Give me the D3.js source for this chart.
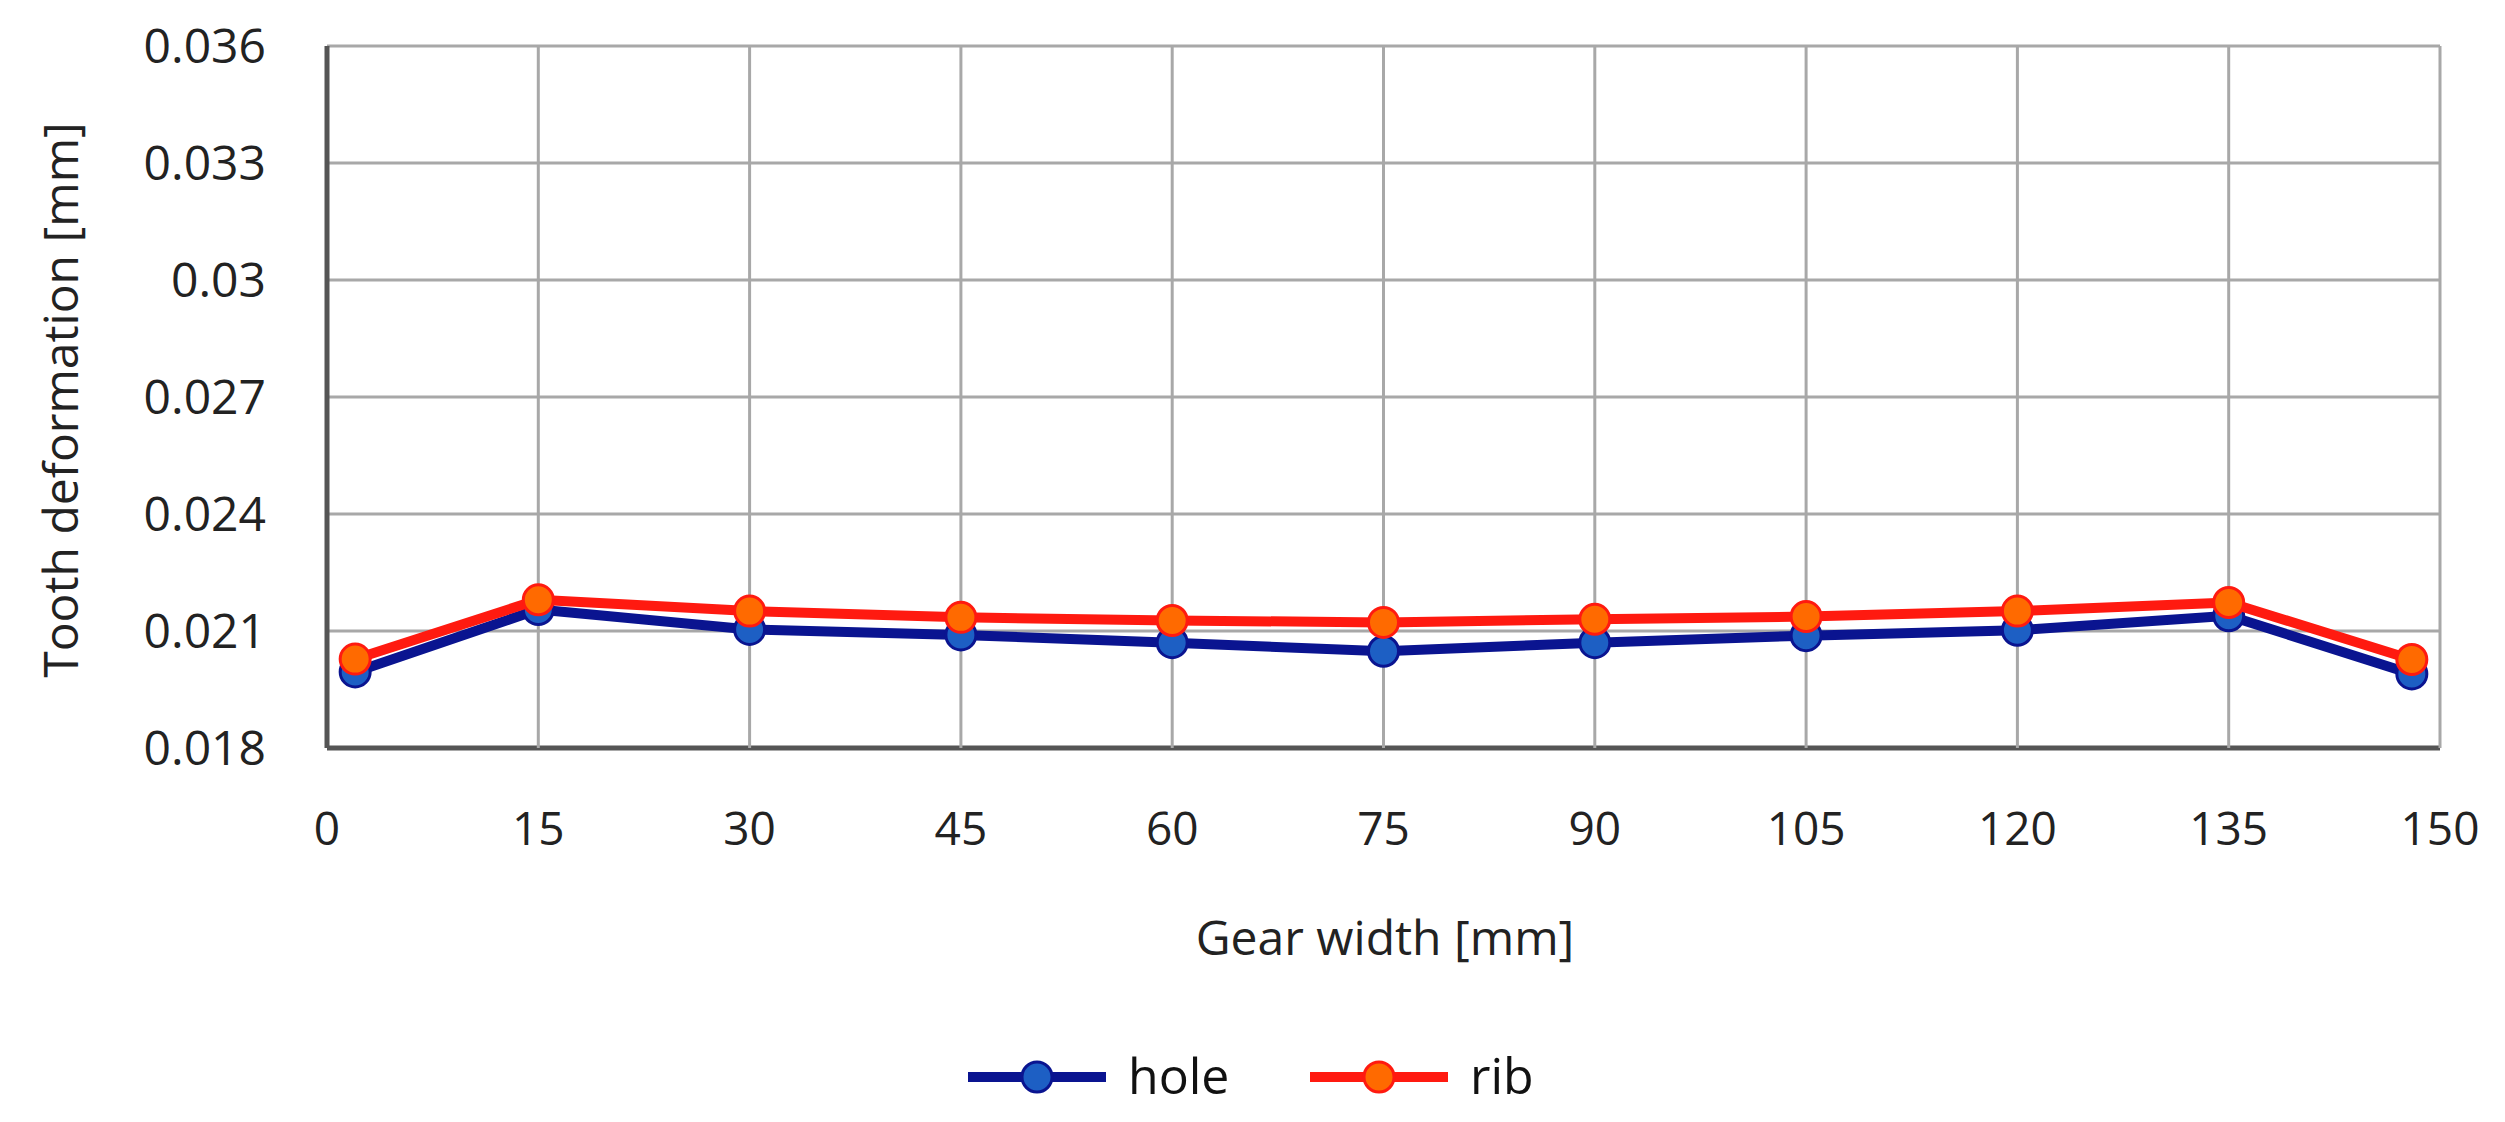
<!DOCTYPE html>
<html><head><meta charset="utf-8">
<script src="https://cdn.jsdelivr.net/npm/d3@7"></script>
<style>body{margin:0;background:#fff}</style></head>
<body><svg id="c" width="2505" height="1122"></svg>
<script>
const xs = [2, 15, 30, 45, 60, 75, 90, 105, 120, 135, 148];
const hole = [0.01995, 0.02155, 0.02104, 0.02090, 0.02070, 0.02048, 0.02070, 0.02088, 0.02102, 0.02139, 0.01990];
const rib = [0.02028, 0.02180, 0.02151, 0.02135, 0.02127, 0.02122, 0.02130, 0.02137, 0.02151, 0.02173, 0.02027];
const xTicks = [0, 15, 30, 45, 60, 75, 90, 105, 120, 135, 150];
const yTicks = [0.018, 0.021, 0.024, 0.027, 0.03, 0.033, 0.036];
const yLabels = ["0.018","0.021","0.024","0.027","0.03","0.033","0.036"];

const svg = d3.select("#c");
const L=327, R=2440, T=46, B=748;
const x = d3.scaleLinear().domain([0,150]).range([L,R]);
const y = d3.scaleLinear().domain([0.018,0.036]).range([B,T]);
const font = "'Open Sans', sans-serif";

svg.append("g").selectAll("line").data(yTicks).join("line")
  .attr("x1",L).attr("x2",R).attr("y1",d=>y(d)).attr("y2",d=>y(d))
  .attr("stroke",d=>d===0.018?"#555":"#a8a8a8").attr("stroke-width",d=>d===0.018?5:3);
svg.append("g").selectAll("line").data(xTicks).join("line")
  .attr("y1",T).attr("y2",B).attr("x1",d=>x(d)).attr("x2",d=>x(d))
  .attr("stroke",d=>d===0?"#555":"#a8a8a8").attr("stroke-width",d=>d===0?5:3);

svg.append("g").selectAll("text").data(yTicks).join("text")
  .attr("x",266).attr("y",d=>y(d)+17).attr("text-anchor","end")
  .attr("font-family",font).attr("font-size",48).attr("fill","#222")
  .text((d,i)=>yLabels[i]);
svg.append("g").selectAll("text").data(xTicks).join("text")
  .attr("x",d=>x(d)).attr("y",845).attr("text-anchor","middle")
  .attr("font-family",font).attr("font-size",46).attr("fill","#222").text(d=>d);

svg.append("text").attr("transform","translate(78,400) rotate(-90)").attr("text-anchor","middle")
  .attr("font-family",font).attr("font-size",48).attr("fill","#222").text("Tooth deformation  [mm]");
svg.append("text").attr("x",1385).attr("y",955).attr("text-anchor","middle")
  .attr("font-family",font).attr("font-size",48).attr("fill","#222").text("Gear width [mm]");

const line = d3.line().x((d,i)=>x(xs[i])).y(d=>y(d));
const series = [
  {name:"hole", data:hole, lc:"#0a1490", mc:"#1d5fc4", lx:968},
  {name:"rib", data:rib, lc:"#ff1a10", mc:"#ff6a00", lx:1310}
];
series.forEach(s=>{
  svg.append("path").datum(s.data).attr("d",line).attr("fill","none")
    .attr("stroke",s.lc).attr("stroke-width",10).attr("stroke-linejoin","round");
  svg.append("g").selectAll("circle").data(s.data).join("circle")
    .attr("cx",(d,i)=>x(xs[i])).attr("cy",d=>y(d)).attr("r",15)
    .attr("fill",s.mc).attr("stroke",s.lc).attr("stroke-width",3);
  svg.append("line").attr("x1",s.lx).attr("x2",s.lx+138).attr("y1",1077).attr("y2",1077)
    .attr("stroke",s.lc).attr("stroke-width",10);
  svg.append("circle").attr("cx",s.lx+69).attr("cy",1077).attr("r",15)
    .attr("fill",s.mc).attr("stroke",s.lc).attr("stroke-width",3);
  svg.append("text").attr("x",s.lx+160).attr("y",1094).attr("font-family",font)
    .attr("font-size",50).attr("fill","#111").text(s.name);
});
</script></body></html>
